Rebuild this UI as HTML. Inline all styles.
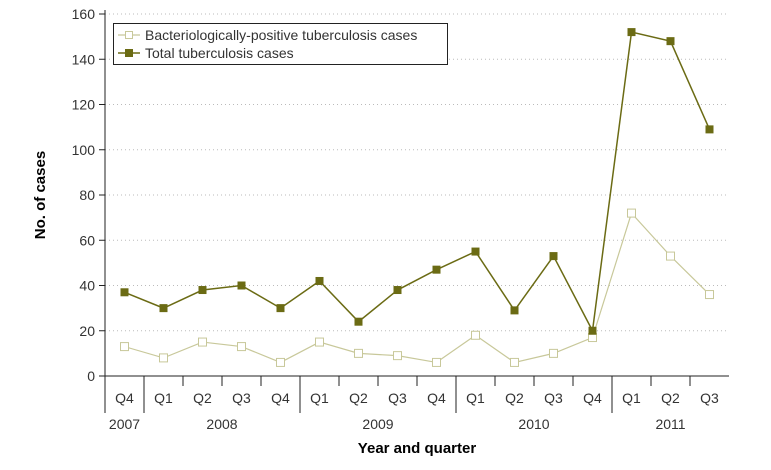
<!DOCTYPE html>
<html><head><meta charset="utf-8"><style>
body{margin:0;background:#fff}
svg{font-family:"Liberation Sans Narrow","Liberation Sans",sans-serif}
</style></head><body>
<svg width="771" height="465">
<g id="grid"></g><g id="axes"></g><g id="marks"></g>
<text x="45" y="195" transform="rotate(-90 45 195)" text-anchor="middle" font-weight="bold" font-size="15">No. of cases</text>
<text x="417" y="453" text-anchor="middle" font-weight="bold" font-size="15">Year and quarter</text>
<g>
<rect x="113.5" y="23.5" width="334" height="41" fill="#fff" stroke="#222"/>
<line x1="118" y1="35" x2="140" y2="35" stroke="#c8c89a" stroke-width="1.2"/>
<rect x="125.5" y="31.5" width="7" height="7" fill="#fff" stroke="#c8c89a"/>
<text x="145" y="40" font-size="14" fill="#333">Bacteriologically-positive tuberculosis cases</text>
<line x1="118" y1="53" x2="140" y2="53" stroke="#6b6b14" stroke-width="1.5"/>
<rect x="125" y="49" width="8" height="8" fill="#6b6b14"/>
<text x="145" y="58" font-size="14" fill="#333">Total tuberculosis cases</text>
</g>
</svg>
<script>
const quarters=["Q4","Q1","Q2","Q3","Q4","Q1","Q2","Q3","Q4","Q1","Q2","Q3","Q4","Q1","Q2","Q3"];
const years=["2007","2008","2009","2010","2011"];
const yearSpans=[1,4,4,4,3];
const bactValues=[13,8,15,13,6,15,10,9,6,18,6,10,17,72,53,36];
const totalValues=[37,30,38,40,30,42,24,38,47,55,29,53,20,152,148,109];
const yTicks=[0,20,40,60,80,100,120,140,160];
const NS="http://www.w3.org/2000/svg";
const X0=105,STEP=39,Y0=376,YTOP=14,YMAX=160;
const xs=i=>X0+STEP*(i+0.5);
const ys=v=>Y0-(Y0-YTOP)*v/YMAX;
function mk(tag,attrs,parent){const e=document.createElementNS(NS,tag);for(const k in attrs)e.setAttribute(k,attrs[k]);document.getElementById(parent).appendChild(e);return e;}
const xEnd=X0+STEP*quarters.length;
yTicks.forEach(t=>{
 const y=ys(t);
 if(t>0){const g=mk("line",{x1:X0,x2:xEnd,y1:y,y2:y,stroke:"#bbb","stroke-dasharray":"1 3"},"grid");
 
 }
 const tk=mk("line",{x1:X0-6,x2:X0,y1:y,y2:y,stroke:"#222"},"axes");
 
 
 const l=mk("text",{x:X0-10,y:y+5,"text-anchor":"end","font-size":"14",fill:"#333"},"axes");l.textContent=t;
 
 
});
const ya=mk("line",{x1:X0,x2:X0,y1:YTOP-4,y2:Y0,stroke:"#222"},"axes");


const xa=mk("line",{x1:X0,x2:xEnd,y1:Y0,y2:Y0,stroke:"#222"},"axes");


const boundaries=[0];let acc=0;yearSpans.forEach(s=>{acc+=s;boundaries.push(acc);});
for(let i=0;i<=quarters.length;i++){
 const x=X0+STEP*i;const big=boundaries.includes(i)&&i<quarters.length&&i>0||i===0;
 if(i===quarters.length)continue;
 const t=mk("line",{x1:x,x2:x,y1:Y0,y2:big?413:386,stroke:"#222"},"axes");
 
 
}
quarters.forEach((q,i)=>{
 const l=mk("text",{x:xs(i),y:403,"text-anchor":"middle","font-size":"14",fill:"#333"},"axes");l.textContent=q;
 
 
});
years.forEach((yr,j)=>{
 const mid=(boundaries[j]+boundaries[j+1])/2;
 const l=mk("text",{x:X0+STEP*mid,y:429,"text-anchor":"middle","font-size":"14",fill:"#333"},"axes");l.textContent=yr;
 
 
});
function series(vals,color,filled,name){
 const p=mk("polyline",{points:vals.map((v,i)=>xs(i)+","+ys(v)).join(" "),fill:"none",stroke:color,"stroke-width":filled?1.5:1.2},"marks");
 
 
 vals.forEach((v,i)=>{
  const r=mk("rect",filled?{x:xs(i)-4,y:ys(v)-4,width:8,height:8,fill:color}:{x:xs(i)-4,y:ys(v)-4,width:8,height:8,fill:"#fff",stroke:color},"marks");
  
  
 });
}
series(bactValues,"#c8c89a",false,"bact");
series(totalValues,"#6b6b14",true,"total");
</script>
</body></html>
